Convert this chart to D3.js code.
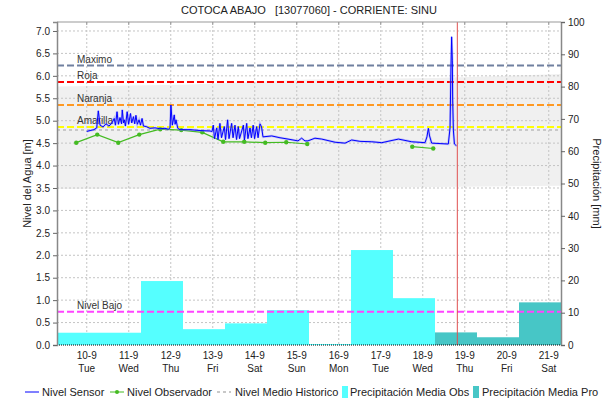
<!DOCTYPE html>
<html>
<head>
<meta charset="utf-8">
<script src="https://cdn.jsdelivr.net/npm/d3@7"></script>
<style>
  body { margin: 0; background: #fff; }
  svg { font-family: Arial, "Liberation Sans", sans-serif; }
</style>
</head>
<body>
<svg width="613" height="401"></svg>
<script>
// ---- data ----
const titleText = "COTOCA ABAJO   [13077060] - CORRIENTE: SINU";
const startTime = "2019-09-09 07:00";
const endTime = "2019-09-21 07:00";
const nowTime = "2019-09-18 19:45";

const tickDays = ["2019-09-10", "2019-09-11", "2019-09-12", "2019-09-13", "2019-09-14", "2019-09-15",
  "2019-09-16", "2019-09-17", "2019-09-18", "2019-09-19", "2019-09-20", "2019-09-21"];
const tickLabels = ["10-9", "11-9", "12-9", "13-9", "14-9", "15-9", "16-9", "17-9", "18-9", "19-9", "20-9", "21-9"];
const tickWeekdays = ["Tue", "Wed", "Thu", "Fri", "Sat", "Sun", "Mon", "Tue", "Wed", "Thu", "Fri", "Sat"];
const levelTicks = [0, 0.5, 1, 1.5, 2, 2.5, 3, 3.5, 4, 4.5, 5, 5.5, 6, 6.5, 7];
const rainTicks = [0, 10, 20, 30, 40, 50, 60, 70, 80, 90, 100];

// daily precipitation, 07:00 to 07:00
const obsDays = ["2019-09-09", "2019-09-10", "2019-09-11", "2019-09-12", "2019-09-13", "2019-09-14",
  "2019-09-15", "2019-09-16", "2019-09-17"];
const obsRain = [3.8, 3.8, 19.8, 4.9, 6.7, 10.8, 0.3, 29.4, 14.5];
const proDays = ["2019-09-18", "2019-09-19", "2019-09-20"];
const proRain = [3.9, 2.4, 13.2];

// alert levels
const alertNames = ["Maximo", "Roja", "Naranja", "Amarilla", "Nivel Bajo"];
const alertLevels = [6.23, 5.86, 5.35, 4.86, 0.74];

// historic envelope and mean
const histTimes = ["2019-09-09 07:00", "2019-09-12 07:00", "2019-09-15 07:00", "2019-09-18 07:00", "2019-09-21 07:00"];
const histMax = [5.76, 5.80, 5.92, 5.95, 6.04];
const histMin = [3.48, 3.49, 3.50, 3.52, 3.55];
const histMean = [4.79, 4.79, 4.79, 4.79, 4.79];

// observer readings (06:00 and 18:00), null = no reading
const observerTimes = ["2019-09-09 18:00", "2019-09-10 06:00", "2019-09-10 18:00", "2019-09-11 06:00",
  "2019-09-11 18:00", "2019-09-12 06:00", "2019-09-12 18:00", "2019-09-13 06:00", "2019-09-13 18:00",
  "2019-09-14 06:00", "2019-09-14 18:00", "2019-09-15 06:00", "2019-09-15 18:00",
  "2019-09-17 18:00", "2019-09-18 06:00"];
const observerLevels = [4.51, 4.69, 4.51, 4.69, 4.81, 4.79, 4.74, 4.53, 4.53, 4.51, 4.52, 4.48, null, 4.42, 4.38];

// sensor: hours after 2019-09-10 00:00
const sensorHours = [0, 1.9, 4.1, 5.7, 6.6, 7.6, 9.3, 11, 12.7, 14.4, 15.7, 16.4, 17.3, 18.1, 19, 19.9, 20.3,
  21, 21.5, 22.1, 23.1, 23.9, 25, 25.7, 26.7, 27.4, 28.1, 28.9, 29.9, 30.7, 31.6, 32.4, 33.9, 36.1, 39,
  41.9, 44.7, 46.6, 47.6, 48.1, 48.9, 50, 50.5, 51, 52, 53.3, 59, 64.7, 70.4, 71.6,
  72.3, 73, 74.3, 75, 76.1, 77, 78.6, 79.3, 80.5, 81.3, 82.8, 83.6, 84.7, 85.6, 86.6, 87.3, 89.5, 90.1,
  91.4, 92.1, 93.3, 94.1, 95.1, 95.9, 97.1, 97.9, 99, 99.9, 100.7, 105.7, 110.4, 115, 120.7, 122.8,
  124.7, 126.4, 130.4, 134.3, 141.9, 147.6, 151.4, 156.1, 162.9, 168.6, 173.3, 178.1, 185.7, 193.3,
  194.4, 195.2, 195.9, 197.1, 201.9, 206.6, 207.6, 208.1, 208.5, 208.9, 209.1, 209.5, 210.1, 211.3];
const sensorLevels = [4.76, 4.78, 4.80, 4.84, 5.22, 4.90, 4.86, 4.93, 4.88, 4.95, 5.05, 4.90, 5.20, 4.92, 5.07,
  4.93, 5.24, 4.95, 5.02, 4.88, 5.20, 4.92, 5.16, 4.95, 5.09, 4.93, 5.12, 4.92, 5.02, 4.90, 5.05, 4.88,
  4.87, 4.83, 4.84, 4.82, 4.83, 4.81, 4.84, 5.35, 4.90, 5.13, 4.92, 5.02, 4.83, 4.80, 4.80, 4.78, 4.77,
  4.76, 4.90, 4.60, 4.84, 4.58, 4.94, 4.62, 4.87, 4.58, 5.02, 4.60, 4.94, 4.62, 4.90, 4.58, 4.87, 4.60,
  4.90, 4.57, 4.94, 4.60, 4.84, 4.62, 4.90, 4.60, 4.87, 4.62, 4.93, 4.86, 4.64, 4.66, 4.62, 4.59, 4.55,
  4.61, 4.55, 4.55, 4.61, 4.59, 4.52, 4.50, 4.57, 4.54, 4.53, 4.51, 4.55, 4.59, 4.53, 4.51, 4.64, 4.83,
  4.66, 4.50, 4.49, 4.48, 4.84, 6.13, 6.87, 6.35, 5.46, 4.79, 4.48, 4.44];

// ---- chart ----
const svg = d3.select("svg");
const margin = {top: 22, right: 52, bottom: 56, left: 57};
const w = +svg.attr("width") - margin.left - margin.right;
const h = +svg.attr("height") - margin.top - margin.bottom;
const parse = d3.timeParse("%Y-%m-%d %H:%M");
const parseDay = d3.timeParse("%Y-%m-%d");
const sensorBase = parse("2019-09-10 00:00");

const x = d3.scaleTime().domain([parse(startTime), parse(endTime)]).range([0, w]);
const y = d3.scaleLinear().domain([0, 7.2]).range([h, 0]);
const yR = d3.scaleLinear().domain([0, 100]).range([h, 0]);

const g = svg.append("g").attr("transform", `translate(${margin.left},${margin.top})`);

// historic band
const hist = histTimes.map((t, i) => ({t: parse(t), hi: histMax[i], lo: histMin[i], mean: histMean[i]}));
g.append("path")
  .datum(hist)
  .attr("fill", "#f0f0f0")
  .attr("d", d3.area().x(d => x(d.t)).y0(d => y(d.lo)).y1(d => y(d.hi)));

// grid
g.append("g").selectAll("line").data(levelTicks.filter(v => v > 0)).enter().append("line")
  .attr("x1", 0).attr("x2", w).attr("y1", d => y(d)).attr("y2", d => y(d))
  .attr("stroke", "#c4c4c4").attr("stroke-dasharray", "2,2");
g.append("g").selectAll("line").data(tickDays).enter().append("line")
  .attr("x1", d => x(parseDay(d))).attr("x2", d => x(parseDay(d)))
  .attr("y1", 0).attr("y2", h)
  .attr("stroke", "#c4c4c4").attr("stroke-dasharray", "2,2");

// precipitation bars
const oneDay = (d) => d3.timeDay.offset(d, 1);
const barData = obsDays.map((d, i) => ({t: parse(d + " 07:00"), v: obsRain[i], kind: "obs"}))
  .concat(proDays.map((d, i) => ({t: parse(d + " 07:00"), v: proRain[i], kind: "pro"})));
g.append("g").selectAll("rect").data(barData).enter().append("rect")
  .attr("x", d => x(d.t))
  .attr("width", d => x(oneDay(d.t)) - x(d.t))
  .attr("y", d => yR(d.v))
  .attr("height", d => h - yR(d.v))
  .attr("fill", d => d.kind === "obs" ? "#55ffff" : "#47c6c6");

// historic mean
g.append("path")
  .datum(hist)
  .attr("fill", "none").attr("stroke", "#c8c8c8").attr("stroke-width", 2)
  .attr("stroke-dasharray", "3,3")
  .attr("d", d3.line().x(d => x(d.t)).y(d => y(d.mean)));

// alert lines
const alertColors = ["#7080a0", "#ff0000", "#ff9922", "#ffff00", "#ff44ff"];
alertLevels.forEach((v, i) => {
  g.append("line")
    .attr("x1", 0).attr("x2", w).attr("y1", y(v)).attr("y2", y(v))
    .attr("stroke", alertColors[i]).attr("stroke-width", 2)
    .attr("stroke-dasharray", "7,3");
  g.append("text")
    .attr("x", 20).attr("y", y(v) - 3)
    .attr("font-size", 10).attr("fill", "#333")
    .text(alertNames[i]);
});

// observer
const obs = observerTimes.map((t, i) => ({t: parse(t), v: observerLevels[i]}));
g.append("path")
  .datum(obs)
  .attr("fill", "none").attr("stroke", "#44bb22").attr("stroke-width", 1.2)
  .attr("d", d3.line().defined(d => d.v != null).x(d => x(d.t)).y(d => y(d.v)));
g.append("g").selectAll("circle").data(obs.filter(d => d.v != null)).enter().append("circle")
  .attr("cx", d => x(d.t)).attr("cy", d => y(d.v)).attr("r", 2.2)
  .attr("fill", "#44bb22");

// sensor
const sensor = sensorHours.map((hh, i) => ({t: d3.timeMinute.offset(sensorBase, Math.round(hh * 60)), v: sensorLevels[i]}));
const sensorLine = d3.line().x(d => x(d.t)).y(d => y(d.v));
g.append("path").datum(sensor)
  .attr("fill", "none").attr("stroke", "#8888ff").attr("stroke-width", 2.4).attr("opacity", 0.45)
  .attr("d", sensorLine);
g.append("path").datum(sensor)
  .attr("fill", "none").attr("stroke", "#0000ff").attr("stroke-width", 1)
  .attr("d", sensorLine);

// now marker
g.append("line")
  .attr("x1", x(parse(nowTime))).attr("x2", x(parse(nowTime)))
  .attr("y1", 0).attr("y2", h)
  .attr("stroke", "#e05050").attr("stroke-width", 1);

// frame
g.append("line").attr("x1", 0).attr("x2", w).attr("y1", 0).attr("y2", 0).attr("stroke", "#999");
g.append("g").selectAll("line").data(tickDays).enter().append("line")
  .attr("x1", d => x(parseDay(d))).attr("x2", d => x(parseDay(d)))
  .attr("y1", 0).attr("y2", 3).attr("stroke", "#999");
g.append("line").attr("x1", 0).attr("x2", w).attr("y1", h).attr("y2", h)
  .attr("stroke", "#000").attr("stroke-dasharray", "1,1");

// axes
const yAxis = g.append("g")
  .call(d3.axisLeft(y).tickValues(levelTicks).tickFormat(d3.format(".1f")).tickSize(4));
const yAxisR = g.append("g")
  .attr("transform", `translate(${w},0)`)
  .call(d3.axisRight(yR).tickValues(rainTicks).tickSize(4));
[yAxis, yAxisR].forEach(a => {
  a.select(".domain").attr("stroke", "#888").attr("stroke-width", 1.5);
  a.selectAll(".tick line").attr("stroke", "#666");
  a.selectAll("text").attr("font-size", 10).attr("fill", "#222").attr("font-family", "Arial, 'Liberation Sans', sans-serif");
});

// x labels
const xl = g.append("g").selectAll("text").data(tickDays).enter().append("text")
  .attr("x", d => x(parseDay(d)))
  .attr("text-anchor", "middle")
  .attr("font-size", 10).attr("fill", "#222");
xl.append("tspan").attr("x", d => x(parseDay(d))).attr("y", h + 14).text((d, i) => tickLabels[i]);
xl.append("tspan").attr("x", d => x(parseDay(d))).attr("y", h + 27).text((d, i) => tickWeekdays[i]);

// titles
svg.append("text")
  .attr("x", margin.left + w / 2).attr("y", 14)
  .attr("text-anchor", "middle").attr("font-size", 11).attr("fill", "#222")
  .style("white-space", "pre")
  .text(titleText);
svg.append("text")
  .attr("transform", `translate(31,${margin.top + h / 2}) rotate(-90)`)
  .attr("text-anchor", "middle").attr("font-size", 11).attr("fill", "#222")
  .text("Nivel del Agua [m]");
svg.append("text")
  .attr("transform", `translate(593,${margin.top + h / 2}) rotate(90)`)
  .attr("text-anchor", "middle").attr("font-size", 11).attr("fill", "#222")
  .text("Precipitación [mm]");

// legend
const leg = svg.append("g").attr("font-size", 11).attr("fill", "#222");
const ly = 392;
leg.append("line").attr("x1", 25).attr("x2", 39).attr("y1", ly).attr("y2", ly).attr("stroke", "#0000ff");
leg.append("text").attr("x", 42).attr("y", ly + 4).text("Nivel Sensor");
leg.append("line").attr("x1", 110).attr("x2", 124).attr("y1", ly).attr("y2", ly).attr("stroke", "#44bb22");
leg.append("circle").attr("cx", 117).attr("cy", ly).attr("r", 2).attr("fill", "#44bb22");
leg.append("text").attr("x", 127).attr("y", ly + 4).text("Nivel Observador");
leg.append("line").attr("x1", 217).attr("x2", 231).attr("y1", ly).attr("y2", ly)
  .attr("stroke", "#c8c8c8").attr("stroke-width", 2).attr("stroke-dasharray", "3,3");
leg.append("text").attr("x", 235).attr("y", ly + 4).text("Nivel Medio Historico");
leg.append("rect").attr("x", 342).attr("y", ly - 6).attr("width", 6).attr("height", 12).attr("fill", "#55ffff");
leg.append("text").attr("x", 350).attr("y", ly + 4).text("Precipitación Media Obs");
leg.append("rect").attr("x", 473).attr("y", ly - 6).attr("width", 6).attr("height", 12).attr("fill", "#47c6c6");
leg.append("text").attr("x", 482).attr("y", ly + 4).text("Precipitación Media Pro");
</script>
</body>
</html>
